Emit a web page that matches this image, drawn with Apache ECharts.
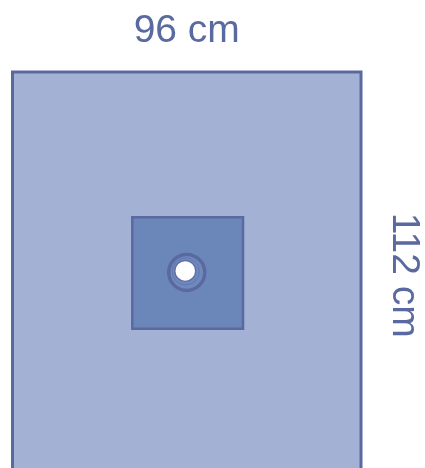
<!DOCTYPE html>
<html>
<head>
<meta charset="utf-8">
<script src="https://cdn.jsdelivr.net/npm/echarts@6/dist/echarts.min.js"></script>
<style>
  html, body { margin: 0; padding: 0; background: #ffffff; }
  #chart { width: 425px; height: 468px; }
</style>
</head>
<body>
<div id="chart"></div>
<script>
// drape sizes in cm
const drapeWidth = 96;
const drapeLength = 112;
const widthLabel = '96 cm';
const lengthLabel = '112 cm';
// [x, y, w, h] in cm from top-left of the drape
const outerSheet = [0, 0, 96, 112];
const incisePatch = [33, 40, 30.5, 30.7];
// fenestration centre [x, y] in cm
const holeCentre = [48, 55.2];

const ink = '#5a6aa0';

const chart = echarts.init(document.getElementById('chart'), null, { renderer: 'canvas' });

const rectItem = (fill, stroke, lw) => (params, api) => {
  const p0 = api.coord([api.value(0), api.value(1)]);
  const p1 = api.coord([api.value(0) + api.value(2), api.value(1) + api.value(3)]);
  return {
    type: 'rect',
    shape: { x: p0[0], y: p0[1], width: p1[0] - p0[0], height: p1[1] - p0[1] },
    style: { fill: fill, stroke: stroke, lineWidth: lw }
  };
};

const option = {
  animation: false,
  grid: { left: 12.5, top: 72, width: 348.5, height: 406.6, containLabel: false, outerBoundsMode: 'none' },
  xAxis: {
    type: 'value', min: 0, max: drapeWidth, position: 'top',
    name: widthLabel, nameLocation: 'middle', nameGap: 21,
    nameTextStyle: { color: ink, fontSize: 39, fontFamily: 'Liberation Sans, Arial, sans-serif' },
    axisLine: { show: false }, axisTick: { show: false }, axisLabel: { show: false }, splitLine: { show: false }
  },
  yAxis: {
    type: 'value', min: 0, max: drapeLength, inverse: true, position: 'right',
    name: lengthLabel, nameLocation: 'middle', nameGap: 23, nameRotate: -90,
    nameTextStyle: { color: ink, fontSize: 39, fontFamily: 'Liberation Sans, Arial, sans-serif' },
    axisLine: { show: false }, axisTick: { show: false }, axisLabel: { show: false }, splitLine: { show: false }
  },
  series: [
    {
      type: 'custom', silent: true, clip: false,
      data: [outerSheet],
      renderItem: rectItem('#a3b2d4', ink, 3)
    },
    {
      type: 'custom', silent: true, clip: false,
      data: [incisePatch],
      renderItem: rectItem('#6b87ba', ink, 2.5)
    },
    {
      type: 'custom', silent: true, clip: false,
      data: [holeCentre],
      renderItem: (params, api) => {
        const c = api.coord([api.value(0), api.value(1)]);
        return {
          type: 'group',
          children: [
            { type: 'circle', shape: { cx: c[0], cy: c[1], r: 18 }, style: { fill: '#7089bd', stroke: ink, lineWidth: 3.5 } },
            { type: 'circle', shape: { cx: c[0] - 1, cy: c[1] - 1, r: 13.5 }, style: { fill: 'none', stroke: '#6376ad', lineWidth: 1 } },
            { type: 'circle', shape: { cx: c[0] - 1.5, cy: c[1] - 1.5, r: 10.5 }, style: { fill: '#ffffff', stroke: '#5f73aa', lineWidth: 1.5 } }
          ]
        };
      }
    }
  ]
};

chart.setOption(option);
</script>
</body>
</html>
